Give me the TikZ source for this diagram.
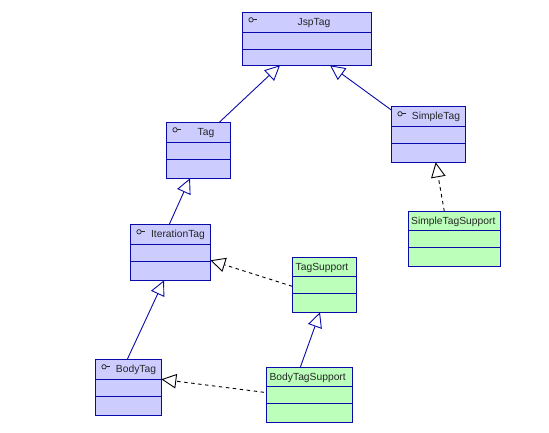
\documentclass[tikz,border=0pt]{standalone}
\usepackage{fontspec}
\setmainfont{Liberation Sans}
\usetikzlibrary{arrows.meta,calc}
\definecolor{umlblue}{RGB}{10,10,170}
\definecolor{ifill}{RGB}{204,204,255}
\definecolor{cfill}{RGB}{187,255,187}
\tikzset{
  umlbox/.style={draw=umlblue,line width=1pt,inner sep=0pt,outer sep=0pt,anchor=north west},
  divider/.style={draw=umlblue,line width=0.9pt},
  umltext/.style={inner sep=0pt,text=black!85,font=\fontsize{10.3}{12}\selectfont},
  umlicon/.style={draw=black!85,line width=0.7pt},
  genline/.style={draw=umlblue,line width=0.9pt,-{Triangle[open,length=15pt,width=14.5pt,fill=white]}},
  realline/.style={draw=black,line width=0.9pt,dash pattern=on 3.5pt off 3.5pt,-{Triangle[open,length=15pt,width=14.5pt,fill=white]}}
}
% name, left, top, right, bottom, div1, div2, fill, text x
\newcommand{\umlclass}[9]{%
  \pgfmathsetlengthmacro{\bw}{#4-#2}\pgfmathsetlengthmacro{\bh}{#5-#3}%
  \node[umlbox,fill=#8,minimum width=\bw,minimum height=\bh] (#1) at (#2,#3) {};
  \draw[divider] ([yshift=-#6pt]#1.north west) -- ([yshift=-#6pt]#1.north east);
  \draw[divider] ([yshift=-#7pt]#1.north west) -- ([yshift=-#7pt]#1.north east);
  \node[umltext] (#1text) at (#9,#3+10.6) {\csname lbl#1\endcsname};
}
\newcommand{\umlicon}[1]{%
  \draw[umlicon] ([shift={(8.7pt,-7.5pt)}]#1.north west) circle[radius=2.2pt];
  \draw[umlicon] ([shift={(10.9pt,-7.5pt)}]#1.north west) -- ++(4pt,0pt);
}
\newcommand{\lbljsp}{JspTag}
\newcommand{\lblsimple}{SimpleTag}
\newcommand{\lbltag}{Tag}
\newcommand{\lbliter}{IterationTag}
\newcommand{\lblbody}{BodyTag}
\newcommand{\lblts}{TagSupport}
\newcommand{\lblbts}{BodyTagSupport}
\newcommand{\lblsts}{SimpleTagSupport}
\begin{document}
\begin{tikzpicture}[x=1pt,y=-1pt]
\useasboundingbox[fill=white] (0,0) rectangle (549,432);
\umlclass{jsp}{242.3}{12.3}{371.3}{65.3}{20}{37}{ifill}{314}
\umlclass{simple}{391.3}{106.3}{465.3}{162.3}{20}{37}{ifill}{436}
\umlclass{tag}{166.3}{122.3}{230.3}{178.3}{20}{37}{ifill}{206}
\umlclass{iter}{130.3}{224.3}{210.3}{280.3}{20}{37}{ifill}{178}
\umlclass{body}{95.3}{359.3}{161.3}{415.3}{20}{37}{ifill}{136}
\umlclass{ts}{292.3}{257.3}{356.3}{312.3}{19}{36}{cfill}{322}
\umlclass{bts}{266.3}{367.3}{352.3}{422.3}{19}{36}{cfill}{307.7}
\umlclass{sts}{408.3}{211.3}{500}{266}{19}{36}{cfill}{453.3}
\umlicon{jsp}\umlicon{simple}\umlicon{tag}\umlicon{iter}\umlicon{body}
% generalisations
\draw[genline] ([xshift=53pt]tag.north west) -- ([xshift=37.7pt]jsp.south west);
\draw[genline] ([yshift=-3.7pt]simple.north west) -- ([xshift=87.7pt]jsp.south west);
\draw[genline] ([xshift=-1pt]iter.north) -- ([xshift=-8.3pt]tag.south);
\draw[genline] ([xshift=-1pt]body.north) -- ([xshift=-6.3pt]iter.south);
\draw[genline] ([xshift=-9pt]bts.north) -- ([xshift=-4.3pt]ts.south);
% realisations
\draw[realline] ([yshift=-29pt]ts.north west) -- ([yshift=-36pt]iter.north east);
\draw[realline] ([shift={(-2.3pt,-25pt)}]bts.north west) -- ([yshift=-20pt]body.north east);
\draw[realline] ([xshift=36pt]sts.north west) -- ([xshift=7.4pt]simple.south);
\end{tikzpicture}
\end{document}
